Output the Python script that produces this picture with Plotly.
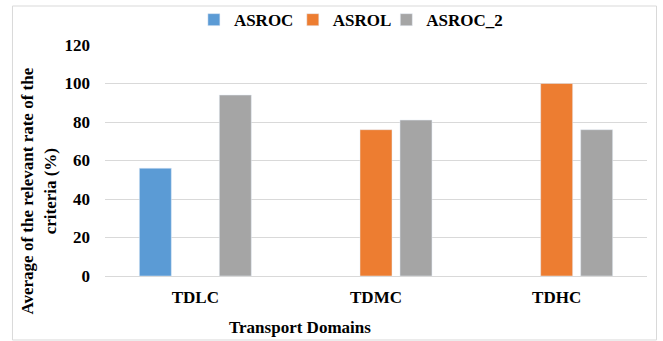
import plotly.graph_objects as go

# Transport domains and the average relevant rate (%) per method
domains = ["TDLC", "TDMC", "TDHC"]
asroc = [56, None, None]
asrol = [None, 76, 100]
asroc_2 = [94, 81, 76]

y_ticks = [0, 20, 40, 60, 80, 100, 120]

FONT = "Liberation Serif, Times New Roman, serif"
TEXT = "#000000"
GRID = "#D9D9D9"
SIZE = 17

fig = go.Figure()
fig.add_trace(go.Bar(name="ASROC", x=domains, y=asroc, marker_color="#5B9BD5",
                     legend="legend", showlegend=True))
fig.add_trace(go.Bar(name="ASROL", x=domains, y=asrol, marker_color="#ED7D31",
                     legend="legend2", showlegend=True))
fig.add_trace(go.Bar(name="ASROC_2", x=domains, y=asroc_2, marker_color="#A5A5A5",
                     legend="legend3", showlegend=True))


def legend_box(x):
    # One legend per series, placed along the top of the figure
    return dict(
        orientation="h",
        x=x,
        xanchor="left",
        yref="container",
        y=0.941,
        yanchor="middle",
        font=dict(family=FONT, size=SIZE, color=TEXT, weight="bold"),
        itemwidth=30,
        bgcolor="rgba(0,0,0,0)",
    )


fig.update_layout(
    width=663,
    height=341,
    margin=dict(l=105, r=16, t=45, b=65, autoexpand=False),
    paper_bgcolor="white",
    plot_bgcolor="white",
    showlegend=True,
    barmode="group",
    bargap=0.336,
    bargroupgap=0.2,
    font=dict(family=FONT, size=SIZE, color=TEXT, weight="bold"),
    legend=legend_box(0.164),
    legend2=legend_box(0.3465),
    legend3=legend_box(0.519),
    xaxis=dict(
        showgrid=False,
        showline=True,
        linecolor=GRID,
        linewidth=1,
        ticks="",
        ticklabelstandoff=6,
        tickfont=dict(family=FONT, size=SIZE, color=TEXT, weight="bold"),
    ),
    yaxis=dict(
        range=[0, 120],
        tickvals=y_ticks,
        showgrid=True,
        gridcolor=GRID,
        gridwidth=1,
        zeroline=False,
        showline=False,
        ticks="",
        ticklabelstandoff=14,
        tickfont=dict(family=FONT, size=SIZE, color=TEXT, weight="bold"),
    ),
    shapes=[
        dict(
            type="rect",
            xref="paper",
            yref="paper",
            x0=-0.1707,
            x1=1.0175,
            y0=-0.277,
            y1=1.1688,
            line=dict(color=GRID, width=1),
            fillcolor="rgba(0,0,0,0)",
            layer="below",
        )
    ],
    annotations=[
        dict(
            text="Average of the relevant rate of the<br>criteria (%)",
            xref="paper",
            yref="paper",
            x=-0.1218,
            y=0.37,
            xanchor="center",
            yanchor="middle",
            textangle=-90,
            showarrow=False,
            font=dict(family=FONT, size=SIZE, color=TEXT, weight="bold"),
        ),
        dict(
            text="Transport Domains",
            xref="paper",
            yref="paper",
            x=0.36,
            y=-0.225,
            xanchor="center",
            yanchor="middle",
            showarrow=False,
            font=dict(family=FONT, size=SIZE, color=TEXT, weight="bold"),
        ),
    ],
)

fig.write_html("out.html")
